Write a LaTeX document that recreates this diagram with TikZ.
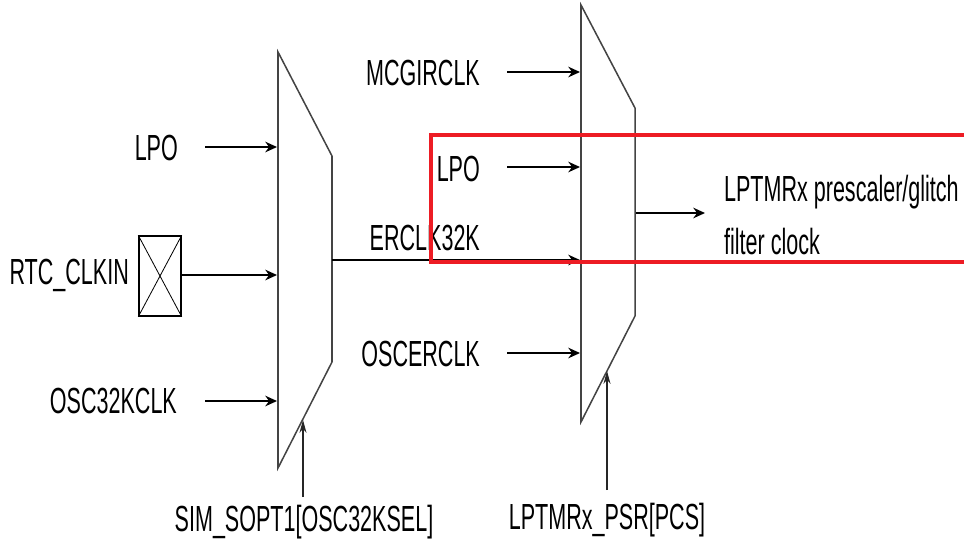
\documentclass[tikz,border=0pt]{standalone}
\usepackage{fontspec}
\setmainfont{Liberation Sans}
\usetikzlibrary{arrows.meta}
\definecolor{muxgray}{HTML}{444444}
\definecolor{markred}{HTML}{ED1C24}
\tikzset{
    clklabel/.style={inner sep=0pt, xscale=0.593, transform shape, font=\fontsize{31}{46}\selectfont, text=black},
    clkline/.style={-{Stealth[length=10pt, width=9pt]}, line width=1.6pt, black},
    selline/.style={-{Stealth[length=11pt, width=6pt]}, line width=1pt, black!85},
    muxshape/.style={draw=muxgray, line width=1.3pt, line join=miter}
}

\begin{document}
\begin{tikzpicture}[x=0.03cm, y=-0.03cm]
    \useasboundingbox (0, 0) rectangle (964, 546);

    % Multiplexer
    \draw[muxshape] (278, 52) -- (332, 156) -- (332, 362) -- (278, 468) -- cycle;
    \draw[muxshape] (581, 5) -- (635, 108) -- (635, 316) -- (581, 422) -- cycle;

    % Pad
    \node[draw, line width=1.3pt, minimum width=42*0.03cm, minimum height=80*0.03cm, inner sep=0pt] (pad) at (160, 276) {};
    \draw[line width=0.7pt] (pad.north west) -- (pad.south east);
    \draw[line width=0.7pt] (pad.north east) -- (pad.south west);

    % Eingaenge links
    \node[clklabel, anchor=east] (lpoa) at (178, 148) {LPO};
    \node[clklabel, anchor=east] (rtcclkin) at (129, 275) {RTC\_CLKIN};
    \node[clklabel, anchor=east] (osc32k) at (177, 401) {OSC32KCLK};
    \coordinate (lpoastart) at (205, 147);
    \coordinate (lpoaend) at (277, 147);
    \coordinate (rtcend) at (277, 275);
    \coordinate (oscstart) at (205, 401);
    \coordinate (oscend) at (277, 401);
    \draw[clkline] (lpoastart) -- (lpoaend);
    \draw[clkline] (pad.east |- rtcend) -- (rtcend);
    \draw[clkline] (oscstart) -- (oscend);

    % Eingaenge rechts
    \node[clklabel, anchor=east] (mcgirclk) at (480, 73) {MCGIRCLK};
    \node[clklabel, anchor=east] (lpob) at (480, 169) {LPO};
    \node[clklabel, anchor=east] (erclk) at (480, 238) {ERCLK32K};
    \node[clklabel, anchor=east] (oscerclk) at (480, 354) {OSCERCLK};
    \coordinate (mcgstart) at (507, 72);
    \coordinate (mcgend) at (580, 72);
    \coordinate (lpobstart) at (507, 167);
    \coordinate (lpobend) at (580, 167);
    \coordinate (ermuxout) at (332, 260);
    \coordinate (erend) at (580, 260);
    \coordinate (oscerstart) at (507, 353);
    \coordinate (oscerend) at (580, 353);
    \draw[clkline] (mcgstart) -- (mcgend);
    \draw[clkline] (lpobstart) -- (lpobend);
    \draw[clkline] (ermuxout) -- (erend);
    \draw[clkline] (oscerstart) -- (oscerend);

    % Ausgang
    \coordinate (outstart) at (636, 213);
    \coordinate (outend) at (705, 213);
    \draw[clkline] (outstart) -- (outend);
    \node[clklabel, anchor=west, align=left] (outclk) at (724, 215) {LPTMRx prescaler/glitch\\filter clock};

    % Auswahlsignale
    \node[clklabel] (oscsel) at (304, 522) {SIM\_SOPT1[OSC32KSEL]};
    \node[clklabel] (pcssel) at (607, 520) {LPTMRx\_PSR[PCS]};
    \coordinate (oscselstart) at (303, 497);
    \coordinate (oscselend) at (303, 420);
    \coordinate (pcsstart) at (607, 490);
    \coordinate (pcsend) at (607, 371);
    \draw[selline] (oscselstart) -- (oscselend);
    \draw[selline] (pcsstart) -- (pcsend);

    % Rote Markierung
    \draw[markred, line width=4pt] (431, 135) rectangle (968, 262);
\end{tikzpicture}
\end{document}
